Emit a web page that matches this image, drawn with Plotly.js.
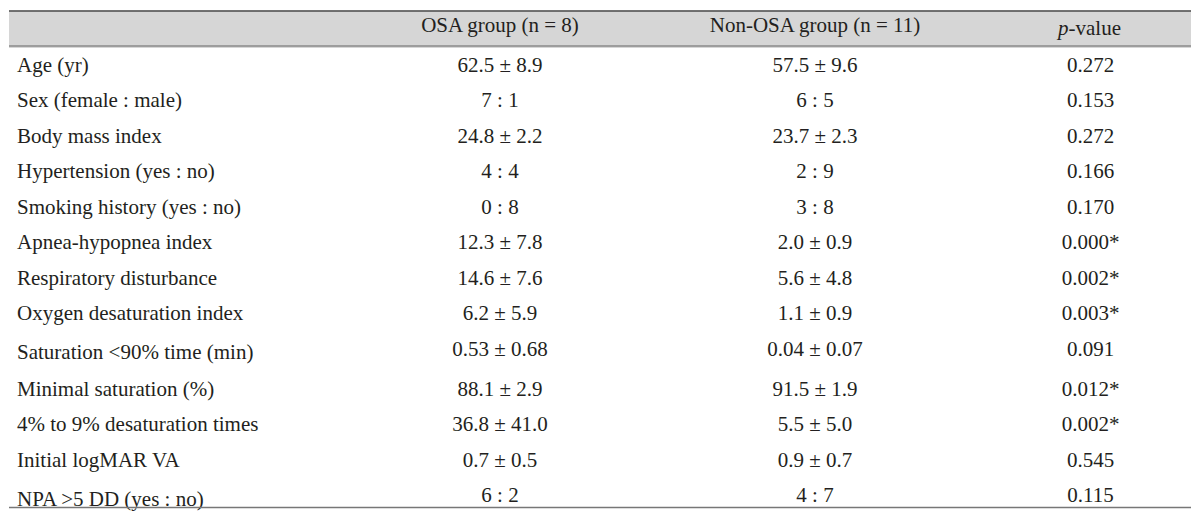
<!DOCTYPE html>
<html>
<head>
<meta charset="utf-8">
<script src="https://cdn.plot.ly/plotly-3.0.1.min.js"></script>
<style>html,body{margin:0;padding:0;background:#fff;}#chart{width:1200px;height:514px;}</style>
</head>
<body>
<div id="chart"></div>
<script>
const headers = ["", "OSA group (n = 8)", "Non-OSA group (n = 11)", "<i>p</i>-value"];
const variables = ["Age (yr)", "Sex (female : male)", "Body mass index", "Hypertension (yes : no)",
  "Smoking history (yes : no)", "Apnea-hypopnea index", "Respiratory disturbance",
  "Oxygen desaturation index", "Saturation &lt;90% time (min)", "Minimal saturation (%)",
  "4% to 9% desaturation times", "Initial logMAR VA", "NPA &gt;5 DD (yes : no)"];
const osaGroup = ["62.5 ± 8.9", "7 : 1", "24.8 ± 2.2", "4 : 4", "0 : 8", "12.3 ± 7.8", "14.6 ± 7.6",
  "6.2 ± 5.9", "0.53 ± 0.68", "88.1 ± 2.9", "36.8 ± 41.0", "0.7 ± 0.5", "6 : 2"];
const nonOsaGroup = ["57.5 ± 9.6", "6 : 5", "23.7 ± 2.3", "2 : 9", "3 : 8", "2.0 ± 0.9", "5.6 ± 4.8",
  "1.1 ± 0.9", "0.04 ± 0.07", "91.5 ± 1.9", "5.5 ± 5.0", "0.9 ± 0.7", "4 : 7"];
const pValues = ["0.272", "0.153", "0.272", "0.166", "0.170", "0.000*", "0.002*",
  "0.003*", "0.091", "0.012*", "0.002*", "0.545", "0.115"];

(function () {
  const W = 1200, H = 514;
  const xL = 9, xR = 1191, yTop = 11, tableTop = 8;
  const headH = 31, headVis = 35, rowH = 35.5;
  const fnt = {family: 'Liberation Serif', size: 21, color: '#231f20'};
  const gray = '#d6d6d6';
  const py = y => 1 - y / H;
  const trace = {
    type: 'table',
    domain: {x: [xL / W, xR / W], y: [0, py(tableTop)]},
    columnwidth: [351, 280, 350, 201],
    header: {
      values: headers,
      align: ['left', 'center', 'center', 'center'],
      height: headH,
      fill: {color: gray},
      line: {width: 0, color: 'rgba(0,0,0,0)'},
      font: fnt
    },
    cells: {
      values: [variables, osaGroup, nonOsaGroup, pValues],
      align: ['left', 'center', 'center', 'center'],
      height: rowH,
      fill: {color: '#ffffff'},
      line: {width: 0, color: 'rgba(0,0,0,0)'},
      font: fnt
    }
  };
  const lineY = [yTop, yTop + headVis, yTop + headVis + variables.length * rowH];
  const cols = ['#4a4a4a', '#8a8a8a', '#777777'];
  const shapes = [
    {type: 'rect', xref: 'paper', yref: 'paper', layer: 'above', x0: 0, x1: 1,
     y0: py(yTop - 0.6), y1: 1, fillcolor: '#ffffff', line: {width: 0}},
    {type: 'rect', xref: 'paper', yref: 'paper', layer: 'above', x0: xL / W, x1: xR / W,
     y0: py(yTop + headVis), y1: py(yTop + headVis - 6), fillcolor: gray, line: {width: 0}}
  ].concat(lineY.map((y, i) => ({
    type: 'line', xref: 'paper', yref: 'paper',
    x0: xL / W, x1: xR / W, y0: py(y), y1: py(y),
    line: {color: cols[i], width: 1.5}
  })));
  Plotly.newPlot('chart', [trace], {
    width: W, height: H,
    margin: {l: 0, r: 0, t: 0, b: 0},
    paper_bgcolor: '#ffffff',
    shapes: shapes,
    showlegend: false
  }, {displayModeBar: false, staticPlot: true});
})();
</script>
</body>
</html>
